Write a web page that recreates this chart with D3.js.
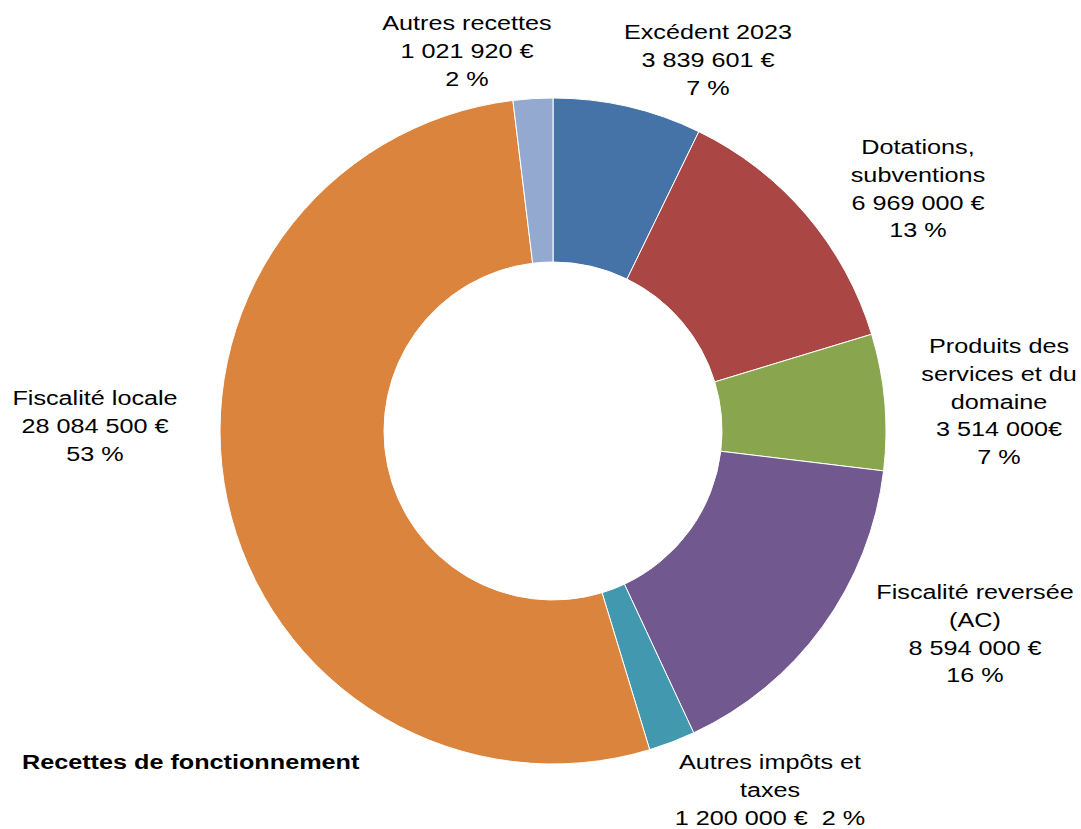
<!DOCTYPE html>
<html>
<head>
<meta charset="utf-8">
<script src="https://cdn.jsdelivr.net/npm/d3@7"></script>
<style>
    body { margin: 0; background: #fff; }
    text { font-family: "Liberation Sans", Arial, sans-serif; fill: #000; white-space: pre; }
</style>
</head>
<body>
<div id="chart-container"></div>
<script>
// Chart data.
const categories = [
    "Excédent 2023",
    "Dotations, subventions",
    "Produits des services et du domaine",
    "Fiscalité reversée (AC)",
    "Autres impôts et taxes",
    "Fiscalité locale",
    "Autres recettes"
];
const amounts = [3839601, 6969000, 3514000, 8594000, 1200000, 28084500, 1021920];
const labelLines = [
    ["Excédent 2023", "3 839 601 €", "7 %"],
    ["Dotations,", "subventions", "6 969 000 €", "13 %"],
    ["Produits des", "services et du", "domaine", "3 514 000€", "7 %"],
    ["Fiscalité reversée", "(AC)", "8 594 000 €", "16 %"],
    ["Autres impôts et", "taxes", "1 200 000 €  2 %"],
    ["Fiscalité locale", "28 084 500 €", "53 %"],
    ["Autres recettes", "1 021 920 €", "2 %"]
];
const colors = ["#4572A7", "#AA4643", "#89A54E", "#71588F", "#4198AF", "#DB843D", "#93A9CF"];

// Label layout (center x, first line y), kept apart from data.
const labelLayout = [
    { x: 708, y: 32 },
    { x: 918, y: 147 },
    { x: 999, y: 346 },
    { x: 975, y: 592 },
    { x: 770, y: 762 },
    { x: 95, y: 398 },
    { x: 467, y: 23 }
];

const width = 1081;
const height = 829;
const cx = 553;
const cy = 431;
const outerR = 333;
const innerR = 169;
const lineHeight = 27.7;
const stretch = 1.2;

const data = categories.map((name, i) => ({ name, value: amounts[i], color: colors[i], lines: labelLines[i], pos: labelLayout[i] }));

const svg = d3.select("#chart-container")
    .append("svg")
    .attr("width", width)
    .attr("height", height);

const pie = d3.pie()
    .sort(null)
    .value((d) => d.value);

const arc = d3.arc()
    .innerRadius(innerR)
    .outerRadius(outerR);

const g = svg.append("g")
    .attr("transform", "translate(" + cx + "," + cy + ")");

// Draw the slices.
g.selectAll(".slice")
    .data(pie(data))
    .enter()
    .append("path")
    .attr("class", "slice")
    .attr("d", arc)
    .attr("fill", (d) => d.data.color)
    .attr("stroke", "#fff")
    .attr("stroke-width", 1);

// Draw the data labels.
const labels = svg.selectAll(".label")
    .data(data)
    .enter()
    .append("text")
    .attr("class", "label")
    .attr("transform", (d) => "translate(" + d.pos.x + "," + d.pos.y + ") scale(" + stretch + ",1)")
    .attr("text-anchor", "middle")
    .attr("dominant-baseline", "central")
    .style("font-size", "21px");

labels.each(function (d) {
    const t = d3.select(this);
    d.lines.forEach((line, i) => {
        t.append("tspan")
            .attr("x", 0)
            .attr("y", i * lineHeight)
            .text(line);
    });
});

// Chart title.
svg.append("text")
    .attr("transform", "translate(22,762) scale(" + stretch + ",1)")
    .attr("dominant-baseline", "central")
    .style("font-size", "21px")
    .style("font-weight", "bold")
    .text("Recettes de fonctionnement");
</script>
</body>
</html>
